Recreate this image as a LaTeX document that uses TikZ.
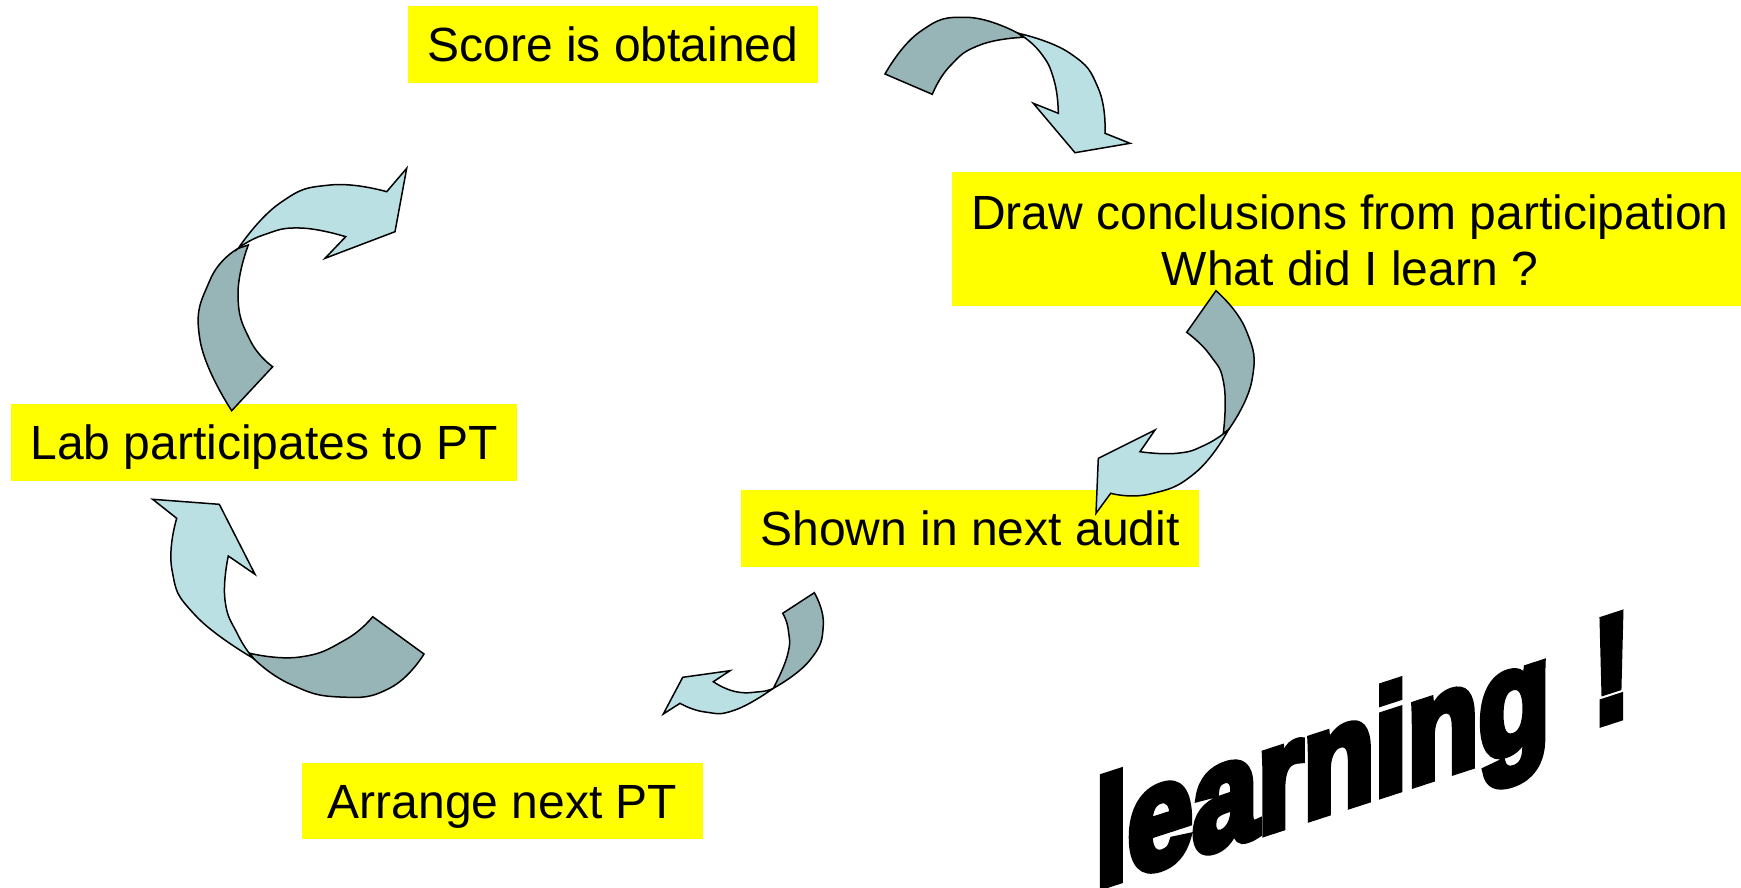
\documentclass[tikz,border=0pt]{standalone}
\usepackage{fontspec}
\setmainfont{Liberation Sans}
\newfontfamily\wordart{Liberation Sans}[FakeBold=6]
\definecolor{boxyellow}{HTML}{FFFF00}
\definecolor{arrowdark}{HTML}{97B4B6}
\definecolor{arrowlight}{HTML}{BAE0E3}
\tikzset{
  yellowbox/.style={fill=boxyellow, inner sep=0pt, text height=34.4pt, text depth=0pt,
    font=\fontsize{48}{57}\selectfont},
  backpart/.style={fill=arrowdark, draw=black, line width=1.5pt},
  frontpart/.style={fill=arrowlight, draw=black, line width=1.5pt},
  wordartstyle/.style={inner sep=0pt, font=\wordart\bfseries\fontsize{148}{148}\selectfont},
  curve/.style={smooth, tension=0.85},
}
\begin{document}
\begin{tikzpicture}[x=1pt,y=-1pt]
\useasboundingbox (0,0) rectangle (1741,887);

% text boxes
\node[yellowbox, minimum width=410pt, minimum height=77pt] (score) at (613,44.5) {Score is obtained};
\node[fill=boxyellow, inner sep=0pt, minimum width=789pt, minimum height=134pt] (draw) at (1346.5,239) {};
\node[inner sep=0pt, align=center, font=\fontsize{48}{56.5}\selectfont] (drawtext) at (1350,240.5)
      {Draw conclusions from participation\\What did I learn ?};
\node[yellowbox, minimum width=506pt, minimum height=77pt] (lab) at (264,442.5) {Lab participates to PT};
\node[yellowbox, minimum width=458pt, minimum height=77pt] (shown) at (970,528.5) {Shown in next audit};
\node[yellowbox, minimum width=401pt, minimum height=76pt] (arrange) at (502.5,801) {Arrange next PT};

% arrow 1 (top right)
\path[backpart] (885,74) -- plot[curve] coordinates {(885,74) (920,31.7) (966.7,17.3) (1018.3,33.3)}
  -- (1023.3,37.3) -- plot[curve] coordinates {(1023.3,37.3) (980,45) (950,66) (932.3,94.3)} -- cycle;
\path[frontpart] (1018.3,33.3) -- plot[curve] coordinates {(1018.3,33.3) (1070,53.3) (1098.3,88.3) (1105,133.3)}
  -- (1130,143.3) -- (1075,152.7) -- (1033.3,103.3) -- (1058.3,113.3)
  -- plot[curve] coordinates {(1058.3,113.3) (1054,80) (1040,52) (1018.3,33.3)} -- cycle;

% arrow 2 (top left)
\path[backpart] (231.7,410.7) -- plot[curve] coordinates {(231.7,410.7) (200,340) (210,280) (238.3,248.3)}
  -- (248.3,245) -- plot[curve] coordinates {(248.3,245) (238,295) (250,340) (272.7,366.7)} -- cycle;
\path[frontpart] (238.3,248.3) -- plot[curve] coordinates {(238.3,248.3) (280,203) (330,185) (386.7,191.7)}
  -- (406.7,168.3) -- (395,231.7) -- (325,258.3) -- (345.7,236.7)
  -- plot[curve] coordinates {(345.7,236.7) (300,228) (263.3,235) (238.3,248.3)} -- cycle;

% arrow 3 (right)
\path[backpart] (1216,290.7) -- plot[curve] coordinates {(1216,290.7) (1246,330) (1252,380) (1228.3,430)}
  -- (1223.3,433.3) -- plot[curve] coordinates {(1223.3,433.3) (1224,385) (1210,355) (1186.7,332.3)} -- cycle;
\path[frontpart] (1228.3,430) -- plot[curve] coordinates {(1228.3,430) (1195,473) (1150,494) (1110.7,493.3)}
  -- (1096,513.3) -- (1098.3,458.3) -- (1155,430) -- (1140,451.7)
  -- plot[curve] coordinates {(1140,451.7) (1176.7,453.3) (1205,445) (1228.3,430)} -- cycle;

% arrow 4 (bottom left)
\path[backpart] (250,653.3) -- plot[curve] coordinates {(250,653.3) (300,657) (345,640) (372.7,616.7)}
  -- (424,654) -- plot[curve] coordinates {(424,654) (390,688) (340,697) (290,684) (253.3,658.3)} -- cycle;
\path[frontpart] (152.7,499.3) -- (219.3,504.3) -- (255,574.3) -- (228.3,556)
  -- plot[curve] coordinates {(228.3,556) (225,600) (238,635) (253.3,658.3)}
  -- plot[curve] coordinates {(253.3,658.3) (195,615) (172,570) (176.7,518.3)} -- cycle;

% arrow 5 (bottom middle)
\path[backpart] (814.3,592.7) -- plot[curve] coordinates {(814.3,592.7) (823.3,625) (810,660) (773.3,688.3)}
  -- plot[curve] coordinates {(773.3,688.3) (787.5,655) (788.3,630) (782.7,613.3)} -- cycle;
\path[frontpart] (773.3,688.3) -- plot[curve] coordinates {(773.3,688.3) (735,710) (705,712) (680,703.3)}
  -- (663.3,714) -- (682.7,677.3) -- (730,670.7) -- (713.3,681.7)
  -- plot[curve] coordinates {(713.3,681.7) (735,691.5) (760,691.7) (773.3,688.3)} -- cycle;

% word art
\begin{scope}[shift={(1095,887.6)}]
\node[wordartstyle, anchor=base west, cm={0.79,0.257,0,1,(0,0)}, transform shape] (learn) at (0,0) {learning\hspace{0.36em}!};
\end{scope}
\end{tikzpicture}
\end{document}
